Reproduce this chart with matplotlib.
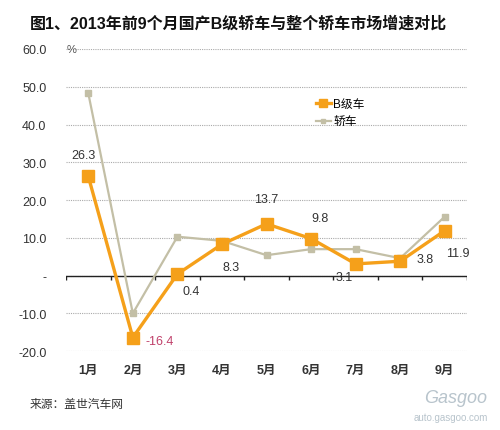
import numpy as np
import matplotlib
matplotlib.use("Agg")
import matplotlib.pyplot as plt

plt.rcParams['font.family'] = ['Liberation Sans', 'Noto Sans CJK SC', 'DejaVu Sans']

months = ["1月", "2月", "3月", "4月", "5月", "6月", "7月", "8月", "9月"]
b_class = [26.3, -16.4, 0.4, 8.3, 13.7, 9.8, 3.1, 3.8, 11.9]
sedan = [48.3, -10.0, 10.3, 9.2, 5.4, 7.0, 7.0, 4.6, 15.6]
yticks = [-20, -10, 0, 10, 20, 30, 40, 50, 60]
ytick_labels = ["-20.0", "-10.0", "-", "10.0", "20.0", "30.0", "40.0", "50.0", "60.0"]

orange = "#f5a01a"
gray = "#c3bfa6"

fig = plt.figure(figsize=(5, 4.31), dpi=100)
ax = fig.add_axes([0.132, 0.183, 0.802, 0.701])

x = np.arange(len(months))
ax.plot(x, sedan, color=gray, lw=1.6, marker="s", ms=5, label="轿车", zorder=3)
ax.plot(x, b_class, color=orange, lw=2.4, marker="s", ms=8, label="B级车", zorder=4)

ax.set_xlim(-0.5, len(months) - 0.5)
ax.set_ylim(-20, 60)
ax.set_yticks(yticks)
ax.set_yticklabels(ytick_labels, fontsize=9, color="#333333")
ax.set_xticks(x)
ax.set_xticklabels(months, fontsize=9, color="#333333", fontweight="bold")
ax.tick_params(axis="y", length=0, pad=14)
ax.tick_params(axis="x", length=0, pad=9)
for s in ax.spines.values():
    s.set_visible(False)
ax.grid(axis="y", color="#aaaaaa", linestyle=(0, (1, 1)), lw=0.8)
ax.set_axisbelow(True)

# zero line with boundary ticks
ax.axhline(0, color="#222222", lw=1.0, zorder=2)
bounds = np.arange(len(months) + 1) - 0.5
ax.vlines(bounds, -1.2, 0, color="#222222", lw=1.0, zorder=2)

# percent sign
ax.text(-0.48, 60, "%", fontsize=8, color="#555555", va="center", ha="left")

# data labels
offsets = [(-0.1, 5.5), (0.6, -1), (0.3, -4.5), (0.2, -6), (0.0, 6.5), (0.2, 5.5),
           (-0.25, -3.5), (0.55, 0.5), (0.3, -6)]
for i, v in enumerate(b_class):
    dx, dy = offsets[i]
    col = "#c0406a" if v < 0 else "#333333"
    ax.text(i + dx, v + dy, f"{v:.1f}", fontsize=9, color=col, ha="center", va="center",
            zorder=5)

handles, labels = ax.get_legend_handles_labels()
leg = ax.legend(handles[::-1], labels[::-1], loc="upper left", bbox_to_anchor=(0.61, 0.795),
                bbox_transform=fig.transFigure, frameon=False, fontsize=8.5, markerscale=0.7,
                handlelength=1.3, handletextpad=0.2, labelspacing=0.5)

fig.text(0.06, 0.945, "图1、2013年前9个月国产B级轿车与整个轿车市场增速对比", fontsize=11.5,
         fontweight="bold", color="#111111", ha="left", va="center")
fig.text(0.06, 0.06, "来源：盖世汽车网", fontsize=8.5, color="#333333", ha="left", va="center")
fig.text(0.975, 0.075, "Gasgoo", fontsize=13, color="#b8c4cc", ha="right", va="center",
         style="italic")
fig.text(0.975, 0.03, "auto.gasgoo.com", fontsize=7, color="#b8c4cc", ha="right", va="center")

fig.savefig("out.png", dpi=100, facecolor="white")
